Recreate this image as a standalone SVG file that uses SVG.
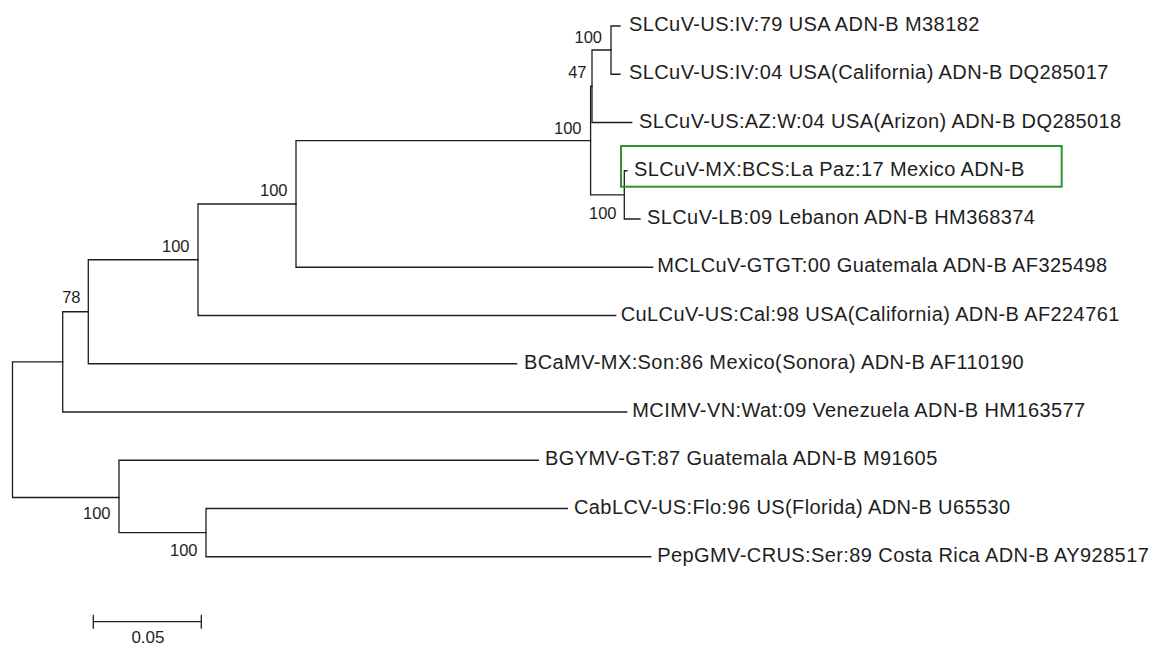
<svg xmlns="http://www.w3.org/2000/svg" width="1161" height="645" viewBox="0 0 1161 645">
<style>
.br{fill:none;stroke:#1e1e1e;stroke-width:1.3;stroke-linecap:square}
.leaf{font-family:"Liberation Sans",Arial,sans-serif;font-size:20px;letter-spacing:0.4px;fill:#1e1e1e}
.bs{font-family:"Liberation Sans",Arial,sans-serif;font-size:16.5px;fill:#1e1e1e;text-anchor:end}
.hl{fill:none;stroke:#2f912f;stroke-width:2}
</style>
<rect width="1161" height="645" fill="#ffffff"/>
<g id="connectors">
<path class="br" d="M611,26 V74.25 M611,26 H620 M611,74.25 H620"/>
<path class="br" d="M592,50 H611 M592,50 V122.5 M592,122.5 H631.7"/>
<path class="br" d="M624.3,170.75 V219 M624.3,170.75 H627 M624.3,219 H640"/>
<path class="br" d="M590.6,86.25 H592 M590.6,86.25 V194.9 M590.6,194.9 H624.3"/>
<path class="br" d="M296,140.6 H590.6 M296,140.6 V267.25 M296,267.25 H652.7"/>
<path class="br" d="M198,204 H296 M198,204 V315.5 M198,315.5 H615.7"/>
<path class="br" d="M88.3,259.75 H198 M88.3,259.75 V363.75 M88.3,363.75 H516.7"/>
<path class="br" d="M62.7,311.75 H88.3 M62.7,311.75 V412 M62.7,412 H626.7"/>
<path class="br" d="M12.5,361.9 H62.7 M12.5,361.9 V497.5 M12.5,497.5 H119"/>
<path class="br" d="M119,460.25 V532.6 M119,460.25 H538.3 M119,532.6 H206"/>
<path class="br" d="M206,508.5 V556.75 M206,508.5 H567.3 M206,556.75 H650.7"/>
</g>
<g id="n1"><text class="leaf" x="629" y="31">SLCuV-US:IV:79 USA ADN-B M38182</text></g>
<g id="n2"><text class="leaf" x="629" y="79.25">SLCuV-US:IV:04 USA(California) ADN-B DQ285017</text></g>
<g id="n3"><text class="leaf" x="639" y="127.5">SLCuV-US:AZ:W:04 USA(Arizon) ADN-B DQ285018</text></g>
<g id="n4"><rect class="hl" x="621" y="146" width="440.7" height="40.7"/><text class="leaf" x="634" y="175.75">SLCuV-MX:BCS:La Paz:17 Mexico ADN-B</text></g>
<g id="n5"><text class="leaf" x="647" y="224">SLCuV-LB:09 Lebanon ADN-B HM368374</text></g>
<g id="n6"><text class="leaf" x="657.3" y="272.25">MCLCuV-GTGT:00 Guatemala ADN-B AF325498</text></g>
<g id="n7"><text class="leaf" x="620.7" y="320.5">CuLCuV-US:Cal:98 USA(California) ADN-B AF224761</text></g>
<g id="n8"><text class="leaf" x="524" y="368.75">BCaMV-MX:Son:86 Mexico(Sonora) ADN-B AF110190</text></g>
<g id="n9"><text class="leaf" x="632.3" y="417">MCIMV-VN:Wat:09 Venezuela ADN-B HM163577</text></g>
<g id="n10"><text class="leaf" x="545" y="465.25">BGYMV-GT:87 Guatemala ADN-B M91605</text></g>
<g id="n11"><text class="leaf" x="574" y="513.5">CabLCV-US:Flo:96 US(Florida) ADN-B U65530</text></g>
<g id="n12"><text class="leaf" x="657.3" y="561.75">PepGMV-CRUS:Ser:89 Costa Rica ADN-B AY928517</text></g>
<g id="bootstrap">
<text class="bs" x="602" y="42.5">100</text>
<text class="bs" x="586.5" y="78">47</text>
<text class="bs" x="581.5" y="133.5">100</text>
<text class="bs" x="616.5" y="218.5">100</text>
<text class="bs" x="287.5" y="195.7">100</text>
<text class="bs" x="189.5" y="251.7">100</text>
<text class="bs" x="80.5" y="303">78</text>
<text class="bs" x="110.5" y="519">100</text>
<text class="bs" x="197.5" y="556">100</text>
</g>
<g id="scalebar">
<path class="br" d="M93.3,621.7 H201.3 M93.3,615.5 V628 M201.3,615.5 V628"/>
<text class="bs" x="164.5" y="643" style="font-size:17px">0.05</text>
</g>
</svg>
